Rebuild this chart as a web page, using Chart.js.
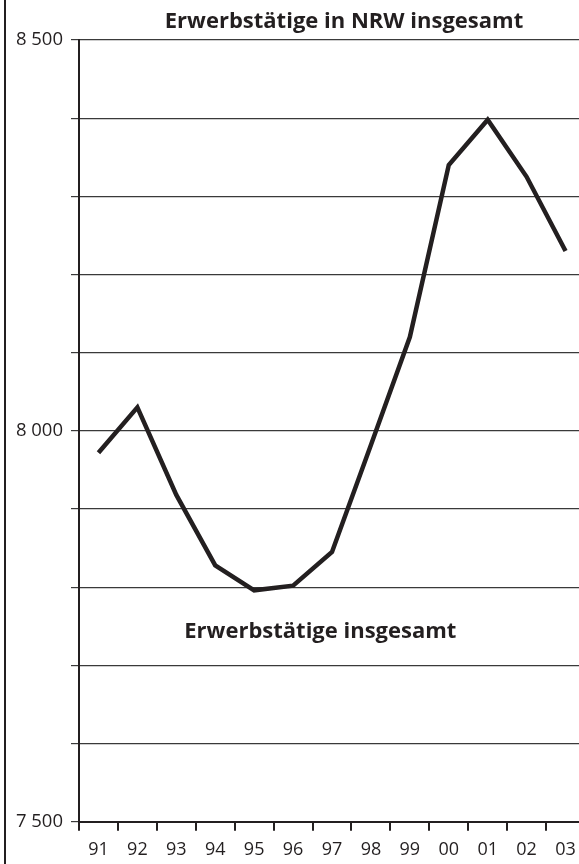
<!DOCTYPE html>
<html>
<head>
<meta charset="utf-8">
<script src="https://cdn.jsdelivr.net/npm/chart.js@4"></script>
<style>
  html, body { margin: 0; padding: 0; background: #fff; overflow: hidden; }
  #wrap { position: relative; width: 579px; height: 864px; overflow: hidden; }
  #frame { position: absolute; left: 4px; top: 0; width: 2px; height: 864px; background: #231f20; }
  canvas { position: absolute; left: 0; top: 0; }
</style>
</head>
<body>
<div id="wrap">
  <div id="frame"></div>
  <canvas id="c" width="585" height="864"></canvas>
</div>
<script>
const chartTitle = 'Erwerbstätige in NRW insgesamt';
const seriesName = 'Erwerbstätige insgesamt';
const years = ['91','92','93','94','95','96','97','98','99','00','01','02','03'];
const employed = [7972, 8030, 7918, 7828, 7796, 7802, 7845, 7982, 8120, 8340, 8398, 8325, 8230];
const yMin = 7500;
const yMax = 8500;
const yStep = 100;
const yLabeled = [7500, 8000, 8500];
const seriesLabelAt = 5.7;
const seriesLabelValue = 7735;

const ink = '#231f20';
const fontFamily = '"Open Sans", "DejaVu Sans", sans-serif';

function fmt(v) {
  return String(v).replace(/\B(?=(\d{3})+(?!\d))/g, ' ');
}

const textPlugin = {
  id: 'texts',
  afterDatasetsDraw(chart) {
    const ctx = chart.ctx;
    const area = chart.chartArea;
    ctx.save();
    ctx.font = 'bold 22px ' + fontFamily;
    ctx.fillStyle = ink;
    ctx.textAlign = 'center';
    ctx.textBaseline = 'alphabetic';
    // title
    ctx.fillText(chartTitle, (area.left + area.right) / 2 + 12, area.top - 12);
    // series label
    const x = chart.scales.x.getPixelForValue(seriesLabelAt);
    const y = chart.scales.y.getPixelForValue(seriesLabelValue);
    ctx.fillText(seriesName, x, y);
    ctx.restore();
  }
};

function draw() {
  new Chart(document.getElementById('c'), {
    type: 'line',
    data: {
      labels: years,
      datasets: [{
        label: seriesName,
        data: employed,
        borderColor: ink,
        borderWidth: 4.5,
        borderJoinStyle: 'miter',
        borderCapStyle: 'butt',
        pointRadius: 0,
        tension: 0,
        fill: false
      }]
    },
    options: {
      responsive: false,
      animation: false,
      layout: { padding: { top: 40, left: 0, right: 0, bottom: 0 } },
      plugins: {
        legend: { display: false },
        tooltip: { enabled: false },
        title: { display: false, text: chartTitle }
      },
      scales: {
        x: {
          type: 'category',
          offset: true,
          afterFit(s) { s.height = 42.3; },
          grid: {
            display: true,
            offset: true,
            drawOnChartArea: false,
            drawTicks: true,
            tickLength: 9,
            color: ink,
            lineWidth: 2
          },
          border: { display: true, color: ink, width: 2 },
          ticks: {
            color: ink,
            padding: 8,
            maxRotation: 0,
            autoSkip: false,
            font: { family: fontFamily, size: 18 }
          }
        },
        y: {
          min: yMin,
          max: yMax,
          afterFit(s) { s.width = 79; },
          grid: {
            display: true,
            drawTicks: true,
            tickLength: 8,
            color: '#3a3a3a',
            lineWidth: 1.2
          },
          border: { display: true, color: ink, width: 2 },
          ticks: {
            stepSize: yStep,
            color: ink,
            padding: 8,
            font: { family: fontFamily, size: 18.5 },
            callback: (v) => yLabeled.includes(v) ? fmt(v) : ''
          }
        }
      }
    },
    plugins: [textPlugin]
  });
}

Promise.all([
  document.fonts.load('bold 22px "Open Sans"'),
  document.fonts.load('18px "Open Sans"')
]).then(draw, draw);
</script>
</body>
</html>
